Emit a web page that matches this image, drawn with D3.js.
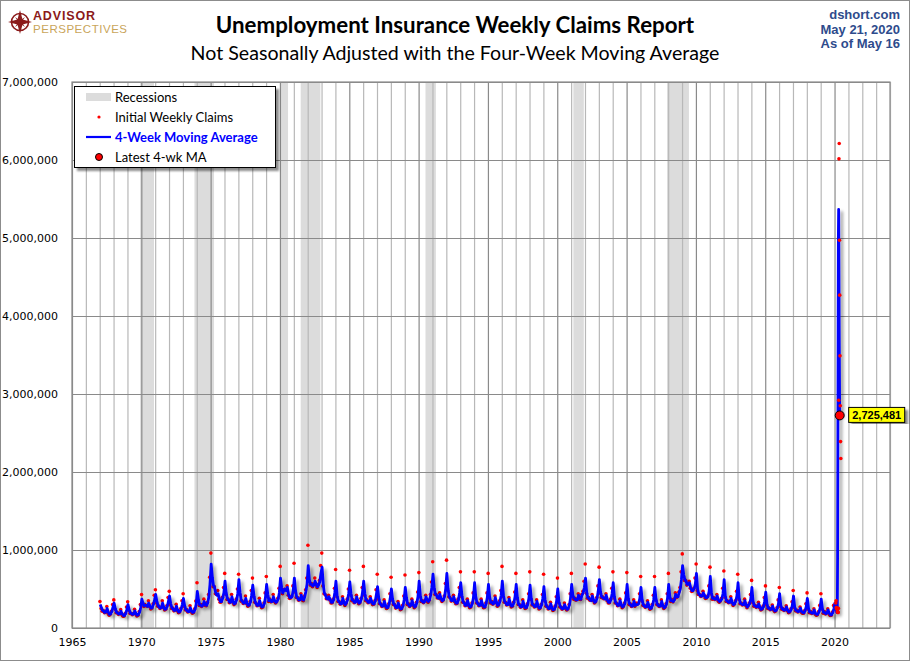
<!DOCTYPE html>
<html>
<head>
<meta charset="utf-8">
<script src="https://cdn.jsdelivr.net/npm/d3@7"></script>
<style>
  body { margin: 0; background: #fff; }
  svg { display: block; }
</style>
</head>
<body>
<div id="chart"></div>
<script>
// Years with monthly readings (values in thousands)
const years = d3.range(1967, 2020);

// 4-week moving average, one value per month (Jan..Dec), thousands
const maMonthly = [
  [300,260,225,215,200,205,250,200,175,180,210,265], // 1967
  [320,250,205,190,180,180,215,180,160,160,185,235],
  [300,235,195,185,175,180,220,185,165,170,200,260],
  [370,320,285,290,290,275,320,285,255,260,300,360], // 1970
  [430,340,290,270,255,260,320,270,240,245,275,340],
  [410,310,260,245,225,225,280,230,205,210,240,300],
  [380,290,240,225,210,210,260,220,200,205,235,300],
  [470,360,300,290,280,290,340,300,290,320,400,560],
  [820,650,550,520,450,420,440,380,340,340,380,450], // 1975
  [600,450,380,360,330,330,400,340,310,320,360,440],
  [620,450,360,340,320,320,380,320,290,295,330,420],
  [550,420,340,310,290,290,350,300,270,275,310,390],
  [560,430,350,360,340,340,400,350,330,340,370,450],
  [640,520,450,480,500,480,520,430,390,390,400,480], // 1980
  [640,480,400,380,360,360,420,370,360,400,470,560],
  [800,620,560,560,540,550,600,560,530,550,590,700],
  [780,560,450,420,380,370,400,370,330,330,360,450],
  [600,420,350,330,310,310,380,330,300,320,360,440],
  [590,440,360,350,330,330,400,350,320,330,370,460], // 1985
  [600,440,360,350,330,330,380,340,310,310,340,430],
  [530,390,320,300,280,280,340,290,260,265,300,380],
  [500,370,310,290,260,260,320,275,245,250,280,360],
  [520,390,310,300,280,290,350,300,270,280,320,400],
  [600,420,350,340,330,340,400,360,340,360,420,520], // 1990
  [690,520,440,420,390,380,430,380,350,360,400,500],
  [700,500,410,380,350,350,400,350,320,320,360,450],
  [580,420,340,320,290,290,350,300,270,275,310,390],
  [580,400,330,310,290,290,350,300,270,270,310,390],
  [560,400,330,330,310,320,390,330,290,300,340,420], // 1995
  [600,420,340,320,300,300,370,310,280,285,320,400],
  [560,390,310,290,270,270,340,290,260,265,300,380],
  [550,380,305,290,275,275,340,285,255,260,295,375],
  [530,360,290,270,250,250,310,260,235,240,270,345],
  [500,340,280,260,245,250,300,260,240,250,290,380], // 2000
  [560,420,380,370,360,360,420,380,370,420,450,520],
  [640,460,390,380,360,350,410,360,330,340,380,470],
  [620,460,400,390,380,370,420,360,330,330,360,440],
  [580,400,330,310,290,290,350,300,270,280,310,390],
  [560,380,310,300,280,280,340,290,300,300,310,380], // 2005
  [520,360,300,280,270,270,330,280,250,255,290,360],
  [520,370,310,290,280,280,340,290,260,270,300,380],
  [560,400,350,350,340,360,430,400,400,450,500,620],
  [800,680,620,600,560,560,580,520,480,480,500,560],
  [700,500,440,420,410,410,450,420,390,390,400,470], // 2010
  [660,450,380,380,370,370,410,360,340,350,370,440],
  [620,410,350,340,330,330,380,330,300,310,340,410],
  [580,380,320,310,300,300,350,300,270,290,310,370],
  [520,340,290,280,270,270,310,270,240,245,270,340],
  [460,310,260,250,240,240,280,240,220,225,250,310], // 2015
  [440,290,250,240,230,230,270,230,205,210,235,290],
  [410,270,230,220,210,215,255,215,200,195,215,270],
  [380,250,205,200,190,190,230,190,175,175,200,250],
  [370,250,200,200,185,190,230,190,170,170,195,250]  // 2019
];

// Initial weekly claims, one reading per month (Jan = seasonal peak week), thousands
const claimsMonthly = [
  [340,250,215,225,195,210,275,190,165,175,215,300], // 1967
  [360,240,195,200,175,185,235,170,150,155,190,270],
  [335,225,185,190,170,185,240,175,155,165,210,300],
  [430,310,275,300,285,280,350,275,245,255,310,420], // 1970
  [490,320,280,280,250,265,350,260,230,240,285,390],
  [470,295,250,255,220,230,305,220,195,205,250,350],
  [440,275,230,235,205,215,285,210,190,200,245,345],
  [580,345,290,300,275,300,370,290,285,330,430,650],
  [960,620,530,530,440,430,480,370,330,335,395,520], // 1975
  [700,430,365,370,325,340,430,330,300,315,370,500],
  [690,430,345,350,315,330,410,310,280,290,340,480],
  [640,400,330,320,285,300,380,290,260,270,320,450],
  [660,410,340,370,335,350,430,340,320,335,380,510],
  [790,500,440,490,495,490,540,420,380,385,410,540], // 1980
  [830,460,390,390,355,370,440,360,350,410,490,640],
  [1060,600,550,570,530,560,640,550,520,560,610,800],
  [960,540,440,430,375,380,420,360,320,325,370,510],
  [750,400,340,340,305,320,400,320,290,315,370,500],
  [740,420,350,360,325,340,420,340,310,325,380,520], // 1985
  [790,420,350,360,325,340,400,330,300,305,350,490],
  [690,370,310,310,275,290,360,280,250,260,310,440],
  [650,355,300,300,255,270,340,265,235,245,290,410],
  [680,370,300,310,275,300,370,290,260,275,330,460],
  [710,400,340,350,325,350,420,350,330,355,430,590], // 1990
  [850,500,430,430,385,390,450,370,340,355,410,570],
  [870,480,400,390,345,360,420,340,310,315,370,520],
  [720,400,330,330,285,300,370,290,260,270,320,450],
  [720,385,320,320,285,300,370,290,260,265,320,450],
  [700,385,320,340,305,330,410,320,280,295,350,480], // 1995
  [790,400,330,330,295,310,390,300,270,280,330,460],
  [700,375,300,300,265,280,360,280,250,260,310,440],
  [720,365,295,300,270,285,360,275,245,255,305,430],
  [690,345,280,280,245,260,330,250,225,235,280,400],
  [640,325,270,270,240,260,320,250,230,245,300,440], // 2000
  [700,405,370,380,355,370,440,370,365,430,470,600],
  [820,445,380,390,355,360,430,350,320,335,390,540],
  [780,445,390,400,375,380,440,350,320,325,370,510],
  [720,385,320,320,285,300,370,290,260,275,320,450],
  [710,365,300,310,275,290,360,280,320,305,320,440], // 2005
  [660,345,290,290,265,280,350,270,240,250,300,420],
  [660,355,300,300,275,290,360,280,250,265,310,440],
  [700,385,340,360,335,370,450,390,400,460,520,720],
  [950,660,610,610,550,570,600,510,470,475,510,640],
  [820,480,430,430,405,420,470,410,380,385,410,540], // 2010
  [780,435,370,390,365,380,430,350,330,345,380,510],
  [730,395,340,350,325,340,400,320,290,305,350,470],
  [690,365,310,320,295,310,370,290,260,285,320,430],
  [610,325,280,290,265,280,330,260,230,240,280,390],
  [540,295,250,260,235,250,295,230,210,220,260,360], // 2015
  [520,275,240,250,225,240,285,220,195,205,245,335],
  [480,260,220,230,205,225,270,205,190,190,225,310],
  [450,240,195,210,185,200,245,180,165,170,210,290],
  [440,240,190,210,180,200,245,180,160,165,205,290]  // 2019
];

// 2020 weekly readings, weeks ending Jan 4 .. May 16 (thousands)
const claims2020 = [320,349,262,247,255,241,210,199,201,200,251,2920,6015,6211,4971,4267,3489,2849,2390,2174];
const ma2020 = [300,320,300,295,278,251,227,209,200,199,213,893,2347,3849,5029,5366,4735,3894,3249,2725.481];
const latestMA = 2725481;

// NBER recessions [start, end] (year, month index)
const recessions = [
  [[1969,11],[1970,10]], [[1973,10],[1975,2]], [[1980,0],[1980,6]],
  [[1981,6],[1982,10]], [[1990,6],[1991,2]], [[2001,2],[2001,10]], [[2007,11],[2009,5]]
];

const yTicks = [0, 1e6, 2e6, 3e6, 4e6, 5e6, 6e6, 7e6];
const xLabelYears = d3.range(1965, 2021, 5);

// Build point lists
const maPoints = [], claimPoints = [], claimPoints2020 = [];
years.forEach((yr, i) => {
  maMonthly[i].forEach((v, m) => maPoints.push({ date: new Date(yr, m, 15), value: v * 1000 }));
  claimsMonthly[i].forEach((v, m) => claimPoints.push({ date: new Date(yr, m, 7), value: v * 1000 }));
});
const week0 = new Date(2020, 0, 4);
ma2020.forEach((v, i) => maPoints.push({ date: d3.timeDay.offset(week0, 7 * i), value: v * 1000 }));
claims2020.forEach((v, i) => claimPoints2020.push({ date: d3.timeDay.offset(week0, 7 * i + 3), value: v * 1000 }));

const width = 910, height = 661;
const plot = { left: 72, right: 890, top: 82, bottom: 628 };

const svg = d3.select("#chart").append("svg")
    .attr("width", width)
    .attr("height", height);

const defs = svg.append("defs");
const shadow = defs.append("filter").attr("id", "shadow")
    .attr("x", "-20%").attr("y", "-20%").attr("width", "140%").attr("height", "140%");
shadow.append("feDropShadow")
    .attr("dx", 3).attr("dy", 3).attr("stdDeviation", 1.6)
    .attr("flood-color", "#000").attr("flood-opacity", 0.35);
const boxShadow = defs.append("filter").attr("id", "boxShadow");
boxShadow.append("feDropShadow")
    .attr("dx", 3).attr("dy", 3).attr("stdDeviation", 1)
    .attr("flood-color", "#000").attr("flood-opacity", 0.45);

// Outer frame
svg.append("rect")
    .attr("x", 0.5).attr("y", 0.5)
    .attr("width", width - 1).attr("height", height - 1)
    .attr("fill", "#fff").attr("stroke", "#8c8c8c");

const x = d3.scaleTime()
    .domain([new Date(1965, 0, 1), new Date(2024, 0, 1)])
    .range([plot.left, plot.right]);

const y = d3.scaleLinear()
    .domain([0, 7e6])
    .range([plot.bottom, plot.top]);

// Recession bands
svg.append("g").selectAll("rect")
    .data(recessions)
    .enter().append("rect")
    .attr("x", d => x(new Date(d[0][0], d[0][1], 1)))
    .attr("y", plot.top)
    .attr("width", d => x(new Date(d[1][0], d[1][1] + 1, 1)) - x(new Date(d[0][0], d[0][1], 1)))
    .attr("height", plot.bottom - plot.top)
    .attr("fill", "#dcdcdc");

// Vertical grid (every year, darker every 5 years)
const xGrid = svg.append("g")
    .attr("transform", `translate(0,${plot.bottom})`)
    .call(d3.axisBottom(x)
        .ticks(d3.timeYear.every(1))
        .tickSize(-(plot.bottom - plot.top))
        .tickFormat(""));
xGrid.select(".domain").remove();
xGrid.selectAll(".tick line")
    .attr("stroke", d => d.getFullYear() % 5 === 0 ? "#8a8a8a" : "#b8b8b8")
    .attr("stroke-width", 1.2);

// Horizontal grid + y labels
const yAxis = svg.append("g")
    .attr("transform", `translate(${plot.left},0)`)
    .call(d3.axisLeft(y)
        .tickValues(yTicks)
        .tickSize(-(plot.right - plot.left))
        .tickPadding(14)
        .tickFormat(d3.format(",")));
yAxis.select(".domain").remove();
yAxis.selectAll(".tick line").attr("stroke", "#8a8a8a").attr("stroke-width", 1.2);
yAxis.selectAll(".tick text")
    .attr("font-family", "'DejaVu Sans', Verdana, sans-serif")
    .attr("font-size", 11)
    .attr("fill", "#000");

// X labels
const xAxis = svg.append("g")
    .attr("transform", `translate(0,${plot.bottom})`)
    .call(d3.axisBottom(x)
        .tickValues(xLabelYears.map(yr => new Date(yr, 0, 1)))
        .tickSize(0)
        .tickPadding(10)
        .tickFormat(d3.timeFormat("%Y")));
xAxis.select(".domain").remove();
xAxis.selectAll(".tick text")
    .attr("font-family", "'DejaVu Sans', Verdana, sans-serif")
    .attr("font-size", 11)
    .attr("fill", "#000");

// Plot frame
svg.append("rect")
    .attr("x", plot.left).attr("y", plot.top)
    .attr("width", plot.right - plot.left).attr("height", plot.bottom - plot.top)
    .attr("fill", "none").attr("stroke", "#8a8a8a").attr("stroke-width", 1.2);

// Weekly claims dots (history, under the line)
svg.append("g").selectAll("circle")
    .data(claimPoints)
    .enter().append("circle")
    .attr("cx", d => x(d.date))
    .attr("cy", d => y(d.value))
    .attr("r", 1.8)
    .attr("fill", "#ff0000");

// 4-week moving average line
const line = d3.line()
    .x(d => x(d.date))
    .y(d => y(d.value));

svg.append("path")
    .datum(maPoints)
    .attr("d", line)
    .attr("fill", "none")
    .attr("stroke", "#0000ff")
    .attr("stroke-width", 2.8)
    .attr("stroke-linejoin", "round")
    .attr("filter", "url(#shadow)");

// 2020 claims dots sit beside the spike
svg.append("g").selectAll("circle")
    .data(claimPoints2020)
    .enter().append("circle")
    .attr("cx", d => x(d.date) + 1)
    .attr("cy", d => y(d.value))
    .attr("r", 1.8)
    .attr("fill", "#ff0000");

// Latest 4-wk MA point + label
const last = maPoints[maPoints.length - 1];
const lx = x(last.date), ly = y(latestMA);
svg.append("circle")
    .attr("cx", lx).attr("cy", ly).attr("r", 4.5)
    .attr("fill", "#ff0000").attr("stroke", "#000").attr("stroke-width", 1);

svg.append("rect")
    .attr("x", lx + 9).attr("y", ly - 8)
    .attr("width", 56).attr("height", 15)
    .attr("fill", "#ffff00").attr("stroke", "#000").attr("stroke-width", 1)
    .attr("filter", "url(#boxShadow)");
svg.append("text")
    .attr("x", lx + 37).attr("y", ly + 4)
    .attr("text-anchor", "middle")
    .attr("font-family", "'Liberation Sans', Arial, sans-serif")
    .attr("font-size", 11)
    .attr("font-weight", "bold")
    .text(d3.format(",")(latestMA));

// Legend
const legend = svg.append("g");
legend.append("rect")
    .attr("x", 74.5).attr("y", 86.5)
    .attr("width", 201).attr("height", 81)
    .attr("fill", "#fff").attr("stroke", "#000").attr("stroke-width", 1)
    .attr("filter", "url(#boxShadow)");
const legendFont = "Lato, 'Open Sans', sans-serif";
const legendItems = [
  { label: "Recessions", y: 97 },
  { label: "Initial Weekly Claims", y: 117 },
  { label: "4-Week Moving Average", y: 137, bold: true, color: "#0000ff" },
  { label: "Latest 4-wk MA", y: 157 }
];
legend.append("rect").attr("x", 86).attr("y", 93).attr("width", 25).attr("height", 8).attr("fill", "#dcdcdc");
legend.append("circle").attr("cx", 99).attr("cy", 117).attr("r", 1.6).attr("fill", "#ff0000");
legend.append("line").attr("x1", 86).attr("x2", 111).attr("y1", 137).attr("y2", 137)
    .attr("stroke", "#0000ff").attr("stroke-width", 2.2);
legend.append("circle").attr("cx", 99).attr("cy", 157).attr("r", 3.5)
    .attr("fill", "#ff0000").attr("stroke", "#000").attr("stroke-width", 1);
legend.selectAll("text.item")
    .data(legendItems)
    .enter().append("text")
    .attr("class", "item")
    .attr("x", 115)
    .attr("y", d => d.y + 4.5)
    .attr("font-family", legendFont)
    .attr("font-size", 13)
    .attr("font-weight", d => d.bold ? "bold" : "normal")
    .attr("fill", d => d.color || "#000")
    .text(d => d.label);

// Titles
svg.append("text")
    .attr("x", 455).attr("y", 33)
    .attr("text-anchor", "middle")
    .attr("font-family", legendFont)
    .attr("font-size", 22.3)
    .attr("font-weight", "bold")
    .text("Unemployment Insurance Weekly Claims Report");
svg.append("text")
    .attr("x", 455).attr("y", 60)
    .attr("text-anchor", "middle")
    .attr("font-family", legendFont)
    .attr("font-size", 19.6)
    .text("Not Seasonally Adjusted with the Four-Week Moving Average");

// Source / dates, top right
svg.append("g").selectAll("text")
    .data(["dshort.com", "May 21, 2020", "As of May 16"])
    .enter().append("text")
    .attr("x", 900)
    .attr("y", (d, i) => 19 + i * 14.5)
    .attr("text-anchor", "end")
    .attr("font-family", "'Liberation Sans', Arial, sans-serif")
    .attr("font-size", 13)
    .attr("font-weight", "bold")
    .attr("fill", "#2e4b8c")
    .text(d => d);

// Logo
const logo = svg.append("g").attr("transform", "translate(20,22)");
logo.append("circle").attr("r", 8.5).attr("fill", "none").attr("stroke", "#8b1a1a").attr("stroke-width", 1.6);
logo.append("polygon")
    .attr("points", "0,-12 2.5,-2.5 12,0 2.5,2.5 0,12 -2.5,2.5 -12,0 -2.5,-2.5")
    .attr("fill", "#8b1a1a");
logo.append("polygon")
    .attr("points", "5,-5 1.5,0 5,5 0,1.5 -5,5 -1.5,0 -5,-5 0,-1.5")
    .attr("fill", "#8b1a1a");
svg.append("text")
    .attr("x", 33).attr("y", 20)
    .attr("font-family", "'Liberation Sans', Arial, sans-serif")
    .attr("font-size", 12.5)
    .attr("font-weight", "bold")
    .attr("fill", "#8b1a1a")
    .attr("textLength", 62)
    .text("ADVISOR");
svg.append("text")
    .attr("x", 33).attr("y", 33.2)
    .attr("font-family", "'Liberation Sans', Arial, sans-serif")
    .attr("font-size", 11.5)
    .attr("fill", "#c9a55a")
    .attr("textLength", 94)
    .text("PERSPECTIVES");
</script>
</body>
</html>
